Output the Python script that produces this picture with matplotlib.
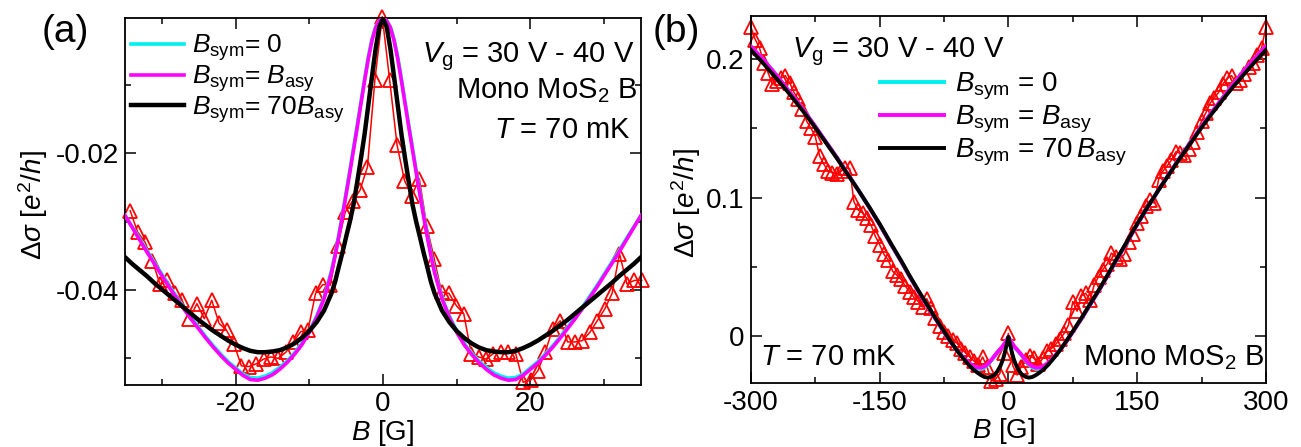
"""Magnetoconductance of mono MoS2 (sample B) with HLN-type fits, two field ranges."""
import numpy as np
import matplotlib
matplotlib.use("Agg")
import matplotlib.pyplot as plt
from matplotlib.ticker import MultipleLocator, FixedLocator, FormatStrFormatter

plt.rcParams.update({
    "font.family": ["Liberation Sans", "DejaVu Sans"],
    "mathtext.fontset": "custom",
    "mathtext.rm": "Liberation Sans",
    "mathtext.it": "Liberation Sans:italic",
    "mathtext.bf": "Liberation Sans:bold",
    "mathtext.fallback": "stixsans",
    "axes.unicode_minus": False,
})

# ---- panel (a): low field, measured points
a_B_meas = np.linspace(-34.3, 35.1, 70)
a_ds_meas = [
    -0.0284, -0.0315, -0.0330, -0.0357, -0.0391, -0.0386, -0.0405, -0.0415, -0.0442, -0.0420,
    -0.0442, -0.0415, -0.0449, -0.0459, -0.0479, -0.0511, -0.0512, -0.0508, -0.0501, -0.0498,
    -0.0500, -0.0491, -0.0476, -0.0461, -0.0458, -0.0405, -0.0392, -0.0393, -0.0335, -0.0286,
    -0.0270, -0.0254, -0.0220, -0.0093, 0.0000, -0.0093, -0.0188, -0.0240, -0.0262, -0.0237,
    -0.0306, -0.0354, -0.0403, -0.0405, -0.0423, -0.0435, -0.0493, -0.0498, -0.0501, -0.0493,
    -0.0490, -0.0490, -0.0493, -0.0535, -0.0532, -0.0518, -0.0490, -0.0457, -0.0445, -0.0476,
    -0.0476, -0.0474, -0.0462, -0.0445, -0.0428, -0.0405, -0.0347, -0.0391, -0.0386, -0.0386,
]

# fits, B >= 0 half (curves are even in B)
a_B_fit = [0, 0.5, 1, 1.5, 2, 2.5, 3, 3.5, 4, 4.5, 5, 5.5, 6, 6.5, 7, 8, 9, 10, 11, 12,
           13, 14, 15, 16, 17, 18, 19, 20, 21, 22, 23, 24, 25, 26, 27, 28, 29, 30, 31, 32,
           33, 34, 35]
a_fit_sym0 = [-0.0003, -0.0006, -0.0015, -0.0033, -0.0059, -0.0091, -0.0125, -0.0159, -0.0192, -0.0225,
              -0.0257, -0.0289, -0.0319, -0.0347, -0.0372, -0.0411, -0.0438, -0.0460, -0.0478, -0.0492,
              -0.0504, -0.0513, -0.0521, -0.0526, -0.0529, -0.0528, -0.0523, -0.0514, -0.0505, -0.0494,
              -0.0482, -0.0469, -0.0455, -0.0441, -0.0426, -0.0410, -0.0394, -0.0377, -0.0360, -0.0343,
              -0.0325, -0.0308, -0.0291]
a_fit_sym1 = [-0.0003, -0.0006, -0.0016, -0.0035, -0.0062, -0.0094, -0.0128, -0.0162, -0.0195, -0.0228,
              -0.0260, -0.0292, -0.0322, -0.0350, -0.0375, -0.0413, -0.0440, -0.0462, -0.0480, -0.0494,
              -0.0506, -0.0516, -0.0524, -0.0529, -0.0532, -0.0531, -0.0525, -0.0516, -0.0507, -0.0496,
              -0.0484, -0.0471, -0.0457, -0.0443, -0.0428, -0.0412, -0.0396, -0.0379, -0.0362, -0.0345,
              -0.0327, -0.0309, -0.0291]
a_fit_sym70 = [-0.0003, -0.0015, -0.0047, -0.0088, -0.0130, -0.0172, -0.0208, -0.0242, -0.0275, -0.0300,
               -0.0322, -0.0345, -0.0366, -0.0388, -0.0405, -0.0430, -0.0447, -0.0460, -0.0470, -0.0478,
               -0.0484, -0.0488, -0.0490, -0.0491, -0.0491, -0.0489, -0.0485, -0.0480, -0.0474, -0.0467,
               -0.0460, -0.0452, -0.0444, -0.0435, -0.0426, -0.0417, -0.0408, -0.0399, -0.0390, -0.0380,
               -0.0371, -0.0362, -0.0352]

# ---- panel (b): wide field, measured points
b_B_meas = np.arange(-300, 301, 5)
b_ds_meas = [
    0.223, 0.214, 0.208, 0.197, 0.190, 0.182, 0.184, 0.186, 0.188, 0.183,
    0.176, 0.171, 0.164, 0.155, 0.150, 0.144, 0.130, 0.124, 0.119, 0.118,
    0.117, 0.119, 0.121, 0.121, 0.097, 0.091, 0.089, 0.085, 0.080, 0.072,
    0.066, 0.059, 0.055, 0.047, 0.044, 0.041, 0.036, 0.032, 0.028, 0.025,
    0.021, 0.027, 0.020, 0.013, 0.007, 0.003, 0.000, -0.003, -0.005, -0.009,
    -0.012, -0.015, -0.018, -0.021, -0.015, -0.022, -0.032, -0.031, -0.027, -0.012,
    0.002,
    -0.021, -0.028, -0.022, -0.017, -0.014, -0.016, -0.020, -0.016, -0.011, -0.009,
    -0.006, -0.002, 0.002, 0.008, 0.025, 0.018, 0.029, 0.031, 0.026, 0.037,
    0.043, 0.048, 0.052, 0.060, 0.057, 0.056, 0.059, 0.068, 0.074, 0.082,
    0.087, 0.094, 0.098, 0.096, 0.113, 0.119, 0.123, 0.127, 0.133, 0.132,
    0.131, 0.135, 0.140, 0.147, 0.155, 0.161, 0.168, 0.172, 0.176, 0.182,
    0.186, 0.188, 0.183, 0.185, 0.189, 0.194, 0.197, 0.203, 0.208, 0.223,
]

b_B_fit = [0, 2, 4, 6, 8, 10, 13, 16, 20, 24, 28, 32, 36, 40, 45, 50, 55, 60, 67, 75,
           85, 95, 105, 115, 125, 137, 150, 162, 175, 187, 200, 212, 225, 237, 250, 262, 275, 287, 300]
b_fit_sym0 = [-0.0005, -0.0029, -0.0050, -0.0068, -0.0085, -0.0099, -0.0121, -0.0144, -0.0177, -0.0206,
              -0.0226, -0.0236, -0.0236, -0.0226, -0.0205, -0.0175, -0.0140, -0.0102, -0.0044, 0.0030,
              0.0125, 0.0225, 0.0325, 0.0430, 0.0540, 0.0665, 0.0805, 0.0928, 0.1055, 0.1168,
              0.1290, 0.1397, 0.1513, 0.1617, 0.1722, 0.1818, 0.1918, 0.2005, 0.2088]
b_fit_sym1 = [-0.0005, -0.0028, -0.0048, -0.0066, -0.0082, -0.0096, -0.0117, -0.0140, -0.0172, -0.0200,
              -0.0218, -0.0227, -0.0226, -0.0218, -0.0198, -0.0170, -0.0137, -0.0100, -0.0043, 0.0030,
              0.0125, 0.0225, 0.0325, 0.0430, 0.0540, 0.0665, 0.0805, 0.0928, 0.1055, 0.1168,
              0.1290, 0.1397, 0.1513, 0.1617, 0.1722, 0.1818, 0.1918, 0.2005, 0.2090]
b_fit_sym70 = [-0.0005, -0.0060, -0.0115, -0.0160, -0.0195, -0.0222, -0.0255, -0.0278, -0.0293, -0.0299,
               -0.0294, -0.0281, -0.0264, -0.0245, -0.0215, -0.0180, -0.0142, -0.0102, -0.0040, 0.0035,
               0.0130, 0.0230, 0.0330, 0.0435, 0.0545, 0.0670, 0.0810, 0.0930, 0.1055, 0.1165,
               0.1285, 0.1390, 0.1505, 0.1605, 0.1708, 0.1800, 0.1893, 0.1978, 0.2065]

FIT_COLORS = ["#00f0f0", "#ff00ff", "black"]
FIT_WIDTHS = [2.6, 2.6, 3.2]
RED = "#ff0000"
FS_TICK = 20
FS = 21


def mirror(x, y):
    x = np.asarray(x, float)
    y = np.asarray(y, float)
    return np.concatenate([-x[:0:-1], x]), np.concatenate([y[:0:-1], y])


def style_axes(ax):
    for s in ax.spines.values():
        s.set_linewidth(1.3)
    ax.tick_params(which="both", direction="in", top=True, right=True,
                   labelsize=FS_TICK, width=1.1, pad=4.5)
    ax.tick_params(which="major", length=8)
    ax.tick_params(which="minor", length=4.5)


fig = plt.figure(figsize=(13.01, 4.47), dpi=100)
ax_a = fig.add_axes([0.0961, 0.1387, 0.3966, 0.8210])
ax_b = fig.add_axes([0.5772, 0.1425, 0.3958, 0.8217])

# --- (a)
ax_a.plot(a_B_meas, a_ds_meas, color=RED, lw=1.1, marker="^", ms=10,
          mfc="none", mec=RED, mew=1.3, zorder=2, clip_on=False)
a_labels = [r"$B_\mathrm{sym}$= 0", r"$B_\mathrm{sym}$= $B_\mathrm{asy}$",
            r"$B_\mathrm{sym}$= 70$B_\mathrm{asy}$"]
for ys, c, lw, lab in zip([a_fit_sym0, a_fit_sym1, a_fit_sym70], FIT_COLORS, FIT_WIDTHS, a_labels):
    xx, yy = mirror(a_B_fit, ys)
    ax_a.plot(xx, yy, color=c, lw=lw, label=lab, zorder=3)

ax_a.set_xlim(-35, 35)
ax_a.set_ylim(-0.0539, -0.0002)
ax_a.xaxis.set_major_locator(MultipleLocator(20))
ax_a.xaxis.set_minor_locator(MultipleLocator(10))
ax_a.yaxis.set_major_locator(FixedLocator([-0.04, -0.02]))
ax_a.yaxis.set_minor_locator(FixedLocator([-0.05, -0.03, -0.01]))
ax_a.yaxis.set_major_formatter(FormatStrFormatter("%g"))
style_axes(ax_a)
ax_a.legend(loc="upper left", bbox_to_anchor=(0.012, 0.96), frameon=False,
            fontsize=19, handlelength=2.0, handletextpad=0.3, labelspacing=0.0,
            borderpad=0, borderaxespad=0)
ax_a.text(0.988, 0.880, r"$V_\mathrm{g}$ = 30 V - 40 V", transform=ax_a.transAxes,
          ha="right", va="baseline", fontsize=FS)
ax_a.text(0.992, 0.782, r"Mono MoS$_2$ B", transform=ax_a.transAxes,
          ha="right", va="baseline", fontsize=FS)
ax_a.text(0.981, 0.673, r"$T$ = 70 mK", transform=ax_a.transAxes,
          ha="right", va="baseline", fontsize=FS)
ax_a.text(0.5, -0.150, r"$B$ [G]", transform=ax_a.transAxes,
          ha="center", va="baseline", fontsize=FS_TICK)
ax_a.text(-0.178, 0.49, r"$\Delta\sigma$ [$e^2/h$]", transform=ax_a.transAxes,
          ha="center", va="center", rotation=90, fontsize=FS_TICK)

# --- (b)
ax_b.plot(b_B_meas, b_ds_meas, color=RED, lw=1.1, marker="^", ms=10,
          mfc="none", mec=RED, mew=1.3, zorder=2, clip_on=False)
b_labels = [r"$B_\mathrm{sym}$ = 0", r"$B_\mathrm{sym}$ = $B_\mathrm{asy}$",
            r"$B_\mathrm{sym}$ = 70$\,B_\mathrm{asy}$"]
for ys, c, lab in zip([b_fit_sym0, b_fit_sym1, b_fit_sym70], FIT_COLORS, b_labels):
    xx, yy = mirror(b_B_fit, ys)
    ax_b.plot(xx, yy, color=c, lw=2.8, label=lab, zorder=3)

ax_b.set_xlim(-300, 300)
ax_b.set_ylim(-0.034, 0.231)
ax_b.xaxis.set_major_locator(MultipleLocator(150))
ax_b.xaxis.set_minor_locator(MultipleLocator(75))
ax_b.yaxis.set_major_locator(MultipleLocator(0.1))
ax_b.yaxis.set_minor_locator(MultipleLocator(0.05))
ax_b.yaxis.set_major_formatter(FormatStrFormatter("%g"))
style_axes(ax_b)
ax_b.legend(loc="upper left", bbox_to_anchor=(0.25, 0.85), frameon=False,
            fontsize=20, handlelength=2.3, handletextpad=0.4, labelspacing=0.05,
            borderpad=0, borderaxespad=0)
ax_b.text(0.079, 0.888, r"$V_\mathrm{g}$ = 30 V - 40 V", transform=ax_b.transAxes,
          ha="left", va="baseline", fontsize=FS)
ax_b.text(0.0175, 0.050, r"$T$ = 70 mK", transform=ax_b.transAxes,
          ha="left", va="baseline", fontsize=FS)
ax_b.text(0.997, 0.050, r"Mono MoS$_2$ B", transform=ax_b.transAxes,
          ha="right", va="baseline", fontsize=FS)
ax_b.text(0.49, -0.150, r"$B$ [G]", transform=ax_b.transAxes,
          ha="center", va="baseline", fontsize=FS_TICK)
ax_b.text(-0.126, 0.491, r"$\Delta\sigma$ [$e^2/h$]", transform=ax_b.transAxes,
          ha="center", va="center", rotation=90, fontsize=FS_TICK)

fig.text(0.050, 0.928, "(a)", ha="center", va="center", fontsize=28)
fig.text(0.520, 0.928, "(b)", ha="center", va="center", fontsize=28)

fig.savefig("out.png", dpi=100)
